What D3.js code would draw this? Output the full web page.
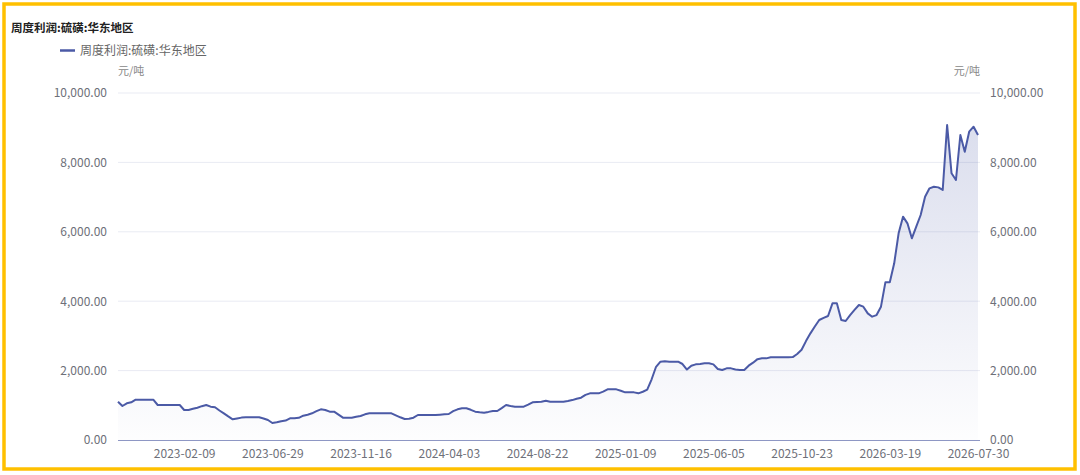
<!DOCTYPE html>
<html lang="zh">
<head>
    <meta charset="UTF-8">
    <title>周度利润:硫磺:华东地区</title>
    <script src="https://d3js.org/d3.v7.min.js"></script>
    <style>
        body { margin: 0; background: #fff; }
        svg text { font-family: "Microsoft YaHei", "Noto Sans CJK SC", sans-serif; }
        .tick text { font-size: 12px; fill: #6e7079; }
        .axis .domain { display: none; }
    </style>
</head>
<body>
<script>
    const width = 1080;
    const height = 475;

    const seriesName = '周度利润:硫磺:华东地区';
    const unit = '元/吨';

    // weekly (Thursday) dates, with holiday weeks removed
    const firstDate = '2022-10-27';
    const lastDate = '2026-07-30';
    const skippedWeeks = ['2025-01-30', '2026-02-19'];
    const extraDates = ['2026-05-06'];
    const renamedDates = {'2024-04-04': '2024-04-03'};

    const tickLabels = ['2023-02-09', '2023-06-29', '2023-11-16', '2024-04-03', '2024-08-22',
                        '2025-01-09', '2025-06-05', '2025-10-23', '2026-03-19', '2026-07-30'];

    const values = [
        1104, 980, 1057, 1086, 1162, 1162, 1162, 1162, 1162, 1009,
        1009, 1009, 1009, 1009, 1009, 865, 865, 900, 931, 975,
        1009, 960, 942, 850, 769, 680, 596, 620, 645, 654,
        654, 654, 654, 620, 576, 490, 510, 540, 560, 625,
        625, 640, 700, 730, 769, 830, 884, 865, 816, 816,
        730, 643, 643, 643, 670, 692, 740, 769, 769, 769,
        769, 769, 769, 710, 654, 605, 610, 643, 720, 720,
        720, 720, 720, 730, 740, 749, 830, 884, 913, 913,
        870, 816, 800, 787, 810, 836, 836, 920, 1009, 980,
        960, 960, 960, 1020, 1086, 1095, 1104, 1133, 1104, 1104,
        1104, 1104, 1125, 1150, 1190, 1220, 1300, 1345, 1345, 1345,
        1393, 1460, 1460, 1460, 1420, 1373, 1373, 1373, 1345, 1390,
        1450, 1750, 2110, 2257, 2270, 2257, 2257, 2257, 2190, 2030,
        2142, 2180, 2190, 2209, 2209, 2180, 2046, 2017, 2065, 2065,
        2030, 2017, 2017, 2142, 2228, 2330, 2353, 2353, 2382, 2382,
        2382, 2382, 2382, 2390, 2478, 2600, 2850, 3074, 3270, 3458,
        3520, 3573, 3939, 3939, 3458, 3429, 3600, 3750, 3890, 3842,
        3650, 3554, 3600, 3842, 4544, 4544, 5092, 5956, 6436, 6244,
        5812, 6148, 6484, 7012, 7253, 7300, 7280, 7205, 9078, 7686,
        7493, 8790, 8309, 8885, 9029, 8790
    ];

    const fmtDate = d3.utcFormat('%Y-%m-%d');
    const dates = d3.utcThursday.range(new Date(firstDate), d3.utcDay.offset(new Date(lastDate), 1))
        .map(fmtDate)
        .filter(d => !skippedWeeks.includes(d))
        .map(d => renamedDates[d] || d)
        .concat(extraDates)
        .sort();

    const data = dates.map((d, i) => ({date: d, value: values[i]}));

    const plotLeft = 118, plotRight = 978, plotTop = 93, plotBottom = 440;

    const x = d3.scalePoint().domain(dates).range([plotLeft, plotRight]);
    const y = d3.scaleLinear().domain([0, 10000]).range([plotBottom, plotTop]);
    const fmt = d3.format(',.2f');

    const svg = d3.select('body').append('svg').attr('width', width).attr('height', height);

    const grad = svg.append('defs').append('linearGradient')
        .attr('id', 'areaFill').attr('x1', 0).attr('y1', 0).attr('x2', 0).attr('y2', 1);
    grad.append('stop').attr('offset', '0%').attr('stop-color', '#4b5aa6').attr('stop-opacity', 0.2);
    grad.append('stop').attr('offset', '100%').attr('stop-color', '#4b5aa6').attr('stop-opacity', 0.01);

    // frame
    svg.append('rect')
        .attr('x', 4).attr('y', 4).attr('width', 1071).attr('height', 465)
        .style('fill', 'none').style('stroke', '#ffc000').style('stroke-width', 3.5);

    // title and legend
    svg.append('text').attr('x', 11).attr('y', 32)
        .text(seriesName)
        .style('font-size', '11.5px').style('font-weight', 'bold').style('fill', '#222');

    svg.append('line').attr('x1', 60).attr('x2', 75).attr('y1', 50.5).attr('y2', 50.5)
        .style('stroke', '#4b5aa6').style('stroke-width', 2.5);
    svg.append('text').attr('x', 80).attr('y', 55)
        .text(seriesName)
        .style('font-size', '12px').style('fill', '#666');

    svg.append('text').attr('x', plotLeft).attr('y', 75).text(unit)
        .style('font-size', '11px').style('fill', '#888');
    svg.append('text').attr('x', plotRight + 2).attr('y', 75).text(unit)
        .style('font-size', '11px').style('fill', '#888').style('text-anchor', 'end');

    // grid
    svg.append('g').selectAll('line')
        .data(y.ticks(5).filter(t => t > 0)).enter()
        .append('line')
        .attr('x1', plotLeft).attr('x2', plotRight + 2)
        .attr('y1', d => y(d)).attr('y2', d => y(d))
        .style('stroke', '#e9ebf3').style('stroke-width', 1);

    // area and line
    svg.append('path').datum(data)
        .attr('d', d3.area().x(d => x(d.date)).y0(plotBottom).y1(d => y(d.value)))
        .style('fill', 'url(#areaFill)');

    svg.append('path').datum(data)
        .attr('d', d3.line().x(d => x(d.date)).y(d => y(d.value)))
        .style('fill', 'none').style('stroke', '#4b5aa6').style('stroke-width', 2)
        .style('stroke-linejoin', 'round');

    // axes
    svg.append('line').attr('x1', plotLeft).attr('x2', plotRight + 2)
        .attr('y1', plotBottom + 0.5).attr('y2', plotBottom + 0.5)
        .style('stroke', '#8e97c4').style('stroke-width', 1);

    svg.append('g').attr('class', 'axis')
        .attr('transform', `translate(0,${plotBottom})`)
        .call(d3.axisBottom(x).tickValues(tickLabels).tickSize(0).tickPadding(9));

    svg.append('g').attr('class', 'axis')
        .attr('transform', `translate(${plotLeft},0)`)
        .call(d3.axisLeft(y).ticks(5).tickFormat(fmt).tickSize(0).tickPadding(11));

    svg.append('g').attr('class', 'axis')
        .attr('transform', `translate(${plotRight},0)`)
        .call(d3.axisRight(y).ticks(5).tickFormat(fmt).tickSize(0).tickPadding(12));
</script>
</body>
</html>
